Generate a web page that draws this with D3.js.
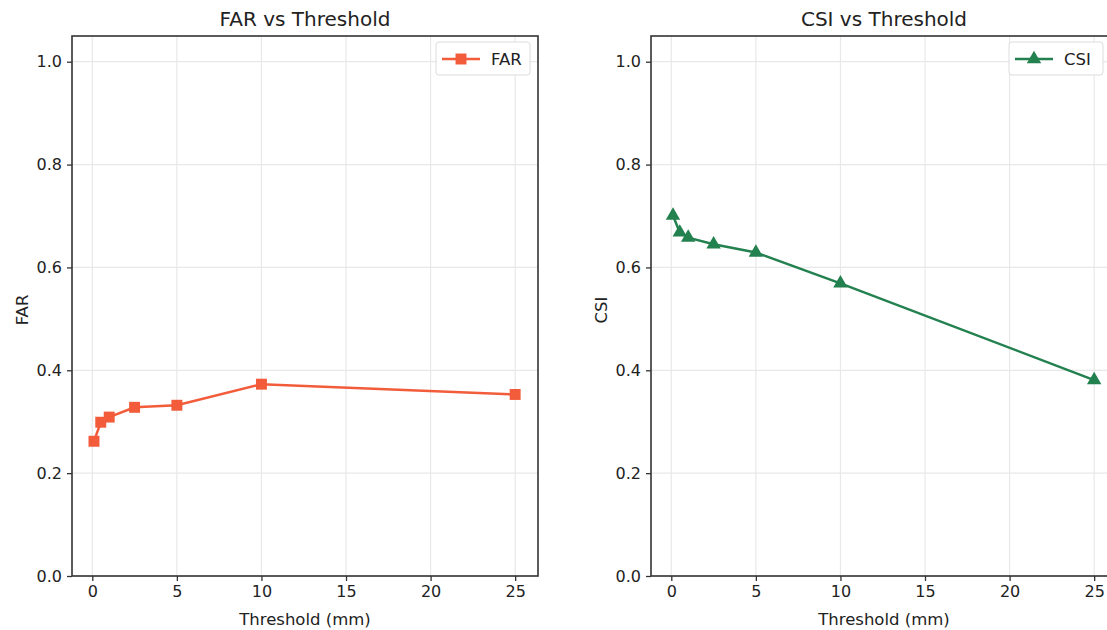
<!DOCTYPE html>
<html>
<head>
<meta charset="utf-8">
<script src="https://cdn.jsdelivr.net/npm/d3@7"></script>
<style>
  body { margin: 0; background: #fff; }
  svg { font-family: "DejaVu Sans", sans-serif; }
  .tick text { fill: #222; }
</style>
</head>
<body>
<div id="vis"></div>
<script>
// Frame
const FRAME_WIDTH = 1107;
const FRAME_HEIGHT = 630;

// Data
const thresholds = [0.1, 0.5, 1, 2.5, 5, 10, 25];
const farValues = [0.262, 0.299, 0.309, 0.328, 0.332, 0.373, 0.353];
const csiValues = [0.701, 0.668, 0.658, 0.645, 0.629, 0.569, 0.381];
const xTicks = [0, 5, 10, 15, 20, 25];
const yTicks = [0.0, 0.2, 0.4, 0.6, 0.8, 1.0];

const FRAME = d3.select("#vis")
    .append("svg")
    .attr("width", FRAME_WIDTH)
    .attr("height", FRAME_HEIGHT);

// one subplot
function make_panel(left, values, opts) {
    const top = 36, bottom = 576, width = 466;

    const X_SCALE = d3.scaleLinear()
        .domain([-1.2, 26.35])
        .range([left, left + width]);

    const Y_SCALE = d3.scaleLinear()
        .domain([0, 1.05])
        .range([bottom, top]);

    const g = FRAME.append("g");

    // clip for the right panel, which is cut off by the picture edge
    const clipId = "clip-" + opts.name;
    g.append("clipPath").attr("id", clipId)
        .append("rect")
        .attr("x", left).attr("y", top)
        .attr("width", width).attr("height", bottom - top);

    // grid
    g.selectAll(".gx")
        .data(xTicks)
        .enter()
        .append("line")
        .attr("x1", d => X_SCALE(d)).attr("x2", d => X_SCALE(d))
        .attr("y1", top).attr("y2", bottom)
        .attr("stroke", "#e8e8e8").attr("stroke-width", 1.2);

    g.selectAll(".gy")
        .data(yTicks)
        .enter()
        .append("line")
        .attr("x1", left).attr("x2", left + width)
        .attr("y1", d => Y_SCALE(d)).attr("y2", d => Y_SCALE(d))
        .attr("stroke", "#e8e8e8").attr("stroke-width", 1.2);

    // line
    const pts = thresholds.map((t, i) => [t, values[i]]);
    const line = d3.line()
        .x(d => X_SCALE(d[0]))
        .y(d => Y_SCALE(d[1]));

    const plot = g.append("g").attr("clip-path", "url(#" + clipId + ")");

    plot.append("path")
        .datum(pts)
        .attr("d", line)
        .attr("fill", "none")
        .attr("stroke", opts.color)
        .attr("stroke-width", 2.5);

    const sym = d3.symbol().type(opts.symbol).size(opts.symbolSize);

    plot.selectAll(".pt")
        .data(pts)
        .enter()
        .append("path")
        .attr("d", sym)
        .attr("transform", d => "translate(" + X_SCALE(d[0]) + "," + Y_SCALE(d[1]) + ")")
        .attr("fill", opts.color);

    // axes
    const xAxis = g.append("g")
        .attr("transform", "translate(0," + bottom + ")")
        .call(d3.axisBottom(X_SCALE).tickValues(xTicks).tickFormat(d3.format("d")).tickSize(5).tickPadding(5));
    const yAxis = g.append("g")
        .attr("transform", "translate(" + left + ",0)")
        .call(d3.axisLeft(Y_SCALE).tickValues(yTicks).tickFormat(d3.format(".1f")).tickSize(5).tickPadding(5));

    [xAxis, yAxis].forEach(a => {
        a.attr("font-size", "16px").attr("font-family", "DejaVu Sans, sans-serif");
        a.select(".domain").remove();
        a.selectAll(".tick line").attr("stroke", "#333").attr("stroke-width", 1.3);
    });

    // frame
    g.append("rect")
        .attr("x", left).attr("y", top)
        .attr("width", width).attr("height", bottom - top)
        .attr("fill", "none")
        .attr("stroke", "#333")
        .attr("stroke-width", 1.6);

    // title and labels
    g.append("text")
        .attr("x", left + width / 2).attr("y", 26)
        .attr("text-anchor", "middle")
        .attr("font-size", "20px")
        .attr("fill", "#222")
        .text(opts.name + " vs Threshold");

    g.append("text")
        .attr("x", left + width / 2).attr("y", 625)
        .attr("text-anchor", "middle")
        .attr("font-size", "16.5px")
        .attr("fill", "#222")
        .text("Threshold (mm)");

    g.append("text")
        .attr("transform", "translate(" + (left - 44) + "," + ((top + bottom) / 2 + 4) + ") rotate(-90)")
        .attr("text-anchor", "middle")
        .attr("font-size", "16.5px")
        .attr("fill", "#222")
        .text(opts.name);

    // legend
    const lgRight = opts.legendRight;
    const lg = g.append("g").attr("transform", "translate(" + (lgRight - 94) + ",42)");
    lg.append("rect")
        .attr("width", 94).attr("height", 33).attr("rx", 3)
        .attr("fill", "#fff").attr("stroke", "#dcdcdc");
    lg.append("line")
        .attr("x1", 6).attr("x2", 44).attr("y1", 17).attr("y2", 17)
        .attr("stroke", opts.color).attr("stroke-width", 2.5);
    lg.append("path")
        .attr("d", sym)
        .attr("transform", "translate(25,17)")
        .attr("fill", opts.color);
    lg.append("text")
        .attr("x", 55).attr("y", 23)
        .attr("font-size", "16.5px")
        .attr("fill", "#222")
        .text(opts.name);
}

make_panel(72, farValues, { name: "FAR", color: "#f25c3b", symbol: d3.symbolSquare, symbolSize: 120, legendRight: 530 });
make_panel(651, csiValues, { name: "CSI", color: "#23804f", symbol: d3.symbolTriangle, symbolSize: 90, legendRight: 1103 });
</script>
</body>
</html>
